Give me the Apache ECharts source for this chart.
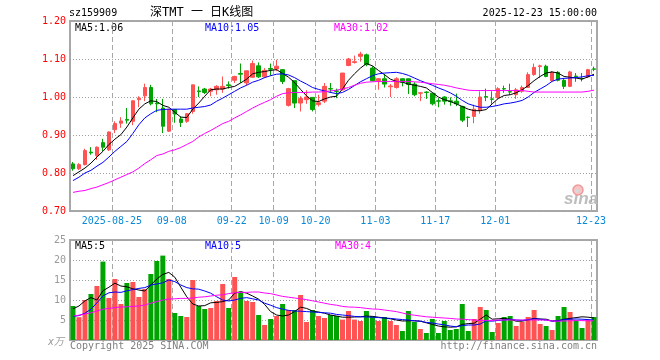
<!DOCTYPE html>
<html><head><meta charset="utf-8">
<script src="https://cdn.jsdelivr.net/npm/echarts@6/dist/echarts.min.js"></script>
<style>html,body{margin:0;padding:0;background:#fff}#c{width:660px;height:360px}</style>
</head><body><div id="c"></div>
<script>
const dates = [
'2025-08-14','2025-08-15','2025-08-18','2025-08-19','2025-08-20','2025-08-21','2025-08-22',
'2025-08-25','2025-08-26','2025-08-27','2025-08-28','2025-08-29',
'2025-09-01','2025-09-02','2025-09-03','2025-09-04','2025-09-05',
'2025-09-08','2025-09-09','2025-09-10','2025-09-11','2025-09-12',
'2025-09-15','2025-09-16','2025-09-17','2025-09-18','2025-09-19',
'2025-09-22','2025-09-23','2025-09-24','2025-09-25','2025-09-26',
'2025-09-29','2025-09-30','2025-10-09','2025-10-10',
'2025-10-13','2025-10-14','2025-10-15','2025-10-16','2025-10-17',
'2025-10-20','2025-10-21','2025-10-22','2025-10-23','2025-10-24',
'2025-10-27','2025-10-28','2025-10-29','2025-10-30','2025-10-31',
'2025-11-03','2025-11-04','2025-11-05','2025-11-06','2025-11-07',
'2025-11-10','2025-11-11','2025-11-12','2025-11-13','2025-11-14',
'2025-11-17','2025-11-18','2025-11-19','2025-11-20','2025-11-21',
'2025-11-24','2025-11-25','2025-11-26','2025-11-27','2025-11-28',
'2025-12-01','2025-12-02','2025-12-03','2025-12-04','2025-12-05',
'2025-12-08','2025-12-09','2025-12-10','2025-12-11','2025-12-12',
'2025-12-15','2025-12-16','2025-12-17','2025-12-18','2025-12-19',
'2025-12-22','2025-12-23'];

const labelDates = ['2025-08-25','2025-09-08','2025-09-22','2025-10-09','2025-10-20','2025-11-03','2025-11-17','2025-12-01','2025-12-23'];

const opens = [0.824,0.811,0.822,0.855,0.846,0.880,0.861,0.914,0.931,0.941,
0.936,0.993,1.003,1.025,0.984,0.971,0.910,0.967,0.942,0.936,
0.962,1.016,1.021,1.015,1.019,1.021,1.032,1.044,1.062,1.037,
1.052,1.082,1.053,1.075,1.074,1.072,0.978,1.043,0.984,0.993,
0.999,0.980,0.989,1.022,1.016,1.019,1.083,1.091,1.107,1.111,
1.076,1.043,1.048,1.027,1.025,1.048,1.048,1.034,1.010,1.013,
1.010,0.990,1.000,0.990,0.989,0.975,0.947,0.949,0.964,1.001,
0.995,0.998,1.022,1.014,1.006,1.015,1.025,1.059,1.080,1.081,
1.043,1.065,1.044,1.028,1.055,1.049,1.053,1.074];

const closes = [0.811,0.822,0.859,0.853,0.868,0.868,0.908,0.930,0.937,0.939,
0.990,0.997,1.025,0.982,0.982,0.923,0.967,0.955,0.933,0.956,
1.032,1.014,1.012,1.021,1.028,1.028,1.030,1.054,1.060,1.069,
1.088,1.053,1.070,1.073,1.081,1.041,1.022,0.984,0.996,1.000,
0.967,0.985,1.028,1.021,1.015,1.063,1.100,1.093,1.113,1.085,
1.043,1.048,1.034,1.029,1.048,1.039,1.033,1.006,1.011,1.012,
0.982,0.989,0.989,0.988,0.982,0.939,0.946,0.968,1.000,1.000,
0.994,1.022,1.021,1.013,1.019,1.025,1.059,1.078,1.082,1.054,
1.065,1.044,1.028,1.066,1.054,1.048,1.072,1.073];

const lows = [0.806,0.808,0.820,0.848,0.835,0.857,0.858,0.905,0.919,0.930,
0.926,0.973,0.989,0.978,0.960,0.905,0.908,0.932,0.921,0.932,
0.956,1.000,1.008,1.002,1.006,1.011,1.022,1.037,1.037,1.030,
1.050,1.050,1.050,1.056,1.068,1.034,0.975,0.971,0.962,0.982,
0.962,0.975,0.984,1.011,0.997,1.017,1.081,1.088,1.093,1.081,
1.041,1.019,1.025,1.000,1.022,1.028,1.008,1.002,0.989,0.995,
0.978,0.973,0.980,0.977,0.976,0.934,0.921,0.931,0.956,0.989,
0.982,0.995,1.011,1.006,0.995,1.011,1.024,1.056,1.050,1.052,
1.041,1.041,1.021,1.026,1.040,1.041,1.050,1.068];

const highs = [0.829,0.826,0.864,0.868,0.870,0.890,0.909,0.936,0.947,0.971,
0.991,1.002,1.035,1.032,0.995,0.995,0.969,0.967,0.949,0.958,
1.032,1.028,1.024,1.024,1.031,1.054,1.041,1.056,1.088,1.069,
1.096,1.091,1.076,1.088,1.098,1.072,1.024,1.043,1.002,1.018,
0.999,1.006,1.037,1.037,1.022,1.063,1.103,1.109,1.119,1.114,
1.081,1.050,1.061,1.034,1.052,1.048,1.048,1.039,1.012,1.015,
1.010,0.997,1.002,0.999,1.009,0.977,0.949,0.980,1.015,1.022,
1.015,1.026,1.030,1.035,1.024,1.030,1.065,1.088,1.085,1.085,
1.068,1.068,1.050,1.069,1.063,1.063,1.074,1.080];

const ma5 = [0.793,0.803,0.813,0.826,0.842,0.857,0.875,0.889,0.901,0.921,
0.945,0.968,0.982,0.990,0.988,0.978,0.973,0.960,0.947,0.946,
0.968,0.984,1.002,1.019,1.021,1.021,1.025,1.028,1.037,1.047,
1.061,1.065,1.067,1.070,1.072,1.062,1.052,1.038,1.020,1.003,
0.990,0.988,0.995,1.000,1.002,1.021,1.044,1.061,1.076,1.088,
1.082,1.070,1.059,1.047,1.041,1.039,1.034,1.031,1.028,1.024,
1.012,1.000,0.993,0.988,0.982,0.975,0.968,0.964,0.964,0.967,
0.982,0.996,1.004,1.006,1.011,1.019,1.030,1.043,1.054,1.063,
1.066,1.063,1.054,1.052,1.050,1.047,1.053,1.060];

const ma10 = [0.780,0.789,0.800,0.807,0.818,0.828,0.842,0.857,0.870,0.883,
0.904,0.927,0.945,0.956,0.965,0.967,0.968,0.968,0.968,0.968,
0.971,0.973,0.975,0.979,0.989,0.997,1.006,1.015,1.024,1.031,
1.039,1.044,1.051,1.056,1.060,1.061,1.058,1.051,1.042,1.034,
1.025,1.020,1.016,1.012,1.009,1.012,1.020,1.030,1.040,1.048,
1.056,1.061,1.063,1.064,1.065,1.062,1.057,1.050,1.043,1.037,
1.031,1.024,1.018,1.011,1.002,0.991,0.982,0.977,0.973,0.973,
0.975,0.978,0.982,0.984,0.987,0.991,1.000,1.012,1.021,1.030,
1.041,1.047,1.049,1.050,1.051,1.053,1.056,1.057];

const ma30 = [0.749,0.752,0.754,0.759,0.763,0.769,0.775,0.782,0.789,0.796,
0.803,0.813,0.825,0.835,0.846,0.850,0.857,0.861,0.867,0.875,
0.883,0.895,0.904,0.912,0.921,0.930,0.936,0.945,0.953,0.962,
0.971,0.979,0.986,0.993,1.002,1.009,1.011,1.012,1.012,1.012,
1.013,1.013,1.014,1.016,1.018,1.021,1.025,1.031,1.036,1.039,
1.040,1.041,1.041,1.041,1.041,1.041,1.041,1.040,1.039,1.037,
1.035,1.033,1.031,1.028,1.024,1.021,1.018,1.017,1.017,1.017,
1.017,1.017,1.017,1.017,1.017,1.017,1.015,1.013,1.013,1.013,
1.013,1.013,1.013,1.013,1.013,1.013,1.015,1.018];

const volumes = [8.5,5.7,10.0,11.5,13.5,19.6,10.5,15.25,9.0,14.25,
14.5,10.75,12.75,16.5,19.75,21.1,15.25,6.75,6.0,5.75,
15.0,8.5,7.75,8.0,9.75,14.0,8.0,15.75,12.0,9.75,
9.5,6.25,3.75,5.25,6.0,9.0,7.5,7.5,11.25,4.5,
7.5,6.0,5.5,6.25,6.0,5.1,7.25,5.1,4.75,7.25,
6.0,4.75,5.75,4.75,3.75,2.25,7.25,4.5,2.75,1.75,
5.25,1.75,4.75,2.5,2.75,9.0,2.25,5.25,8.25,7.5,
2.0,4.25,5.75,6.0,3.5,4.5,5.75,7.5,4.0,3.5,
2.5,6.0,8.25,7.0,5.0,3.0,5.0,5.75];

const vma5 = [7.8,8.5,9.8,10.6,10.0,12.3,13.2,14.2,13.5,13.3,
12.8,12.5,12.25,13.75,15.25,16.4,16.9,15.7,13.2,10.8,
9.0,8.5,8.6,9.3,9.4,9.6,10.0,11.7,12.1,11.7,
11.0,10.2,8.9,7.1,6.25,6.0,6.25,7.1,8.2,7.9,
7.25,7.0,6.7,6.25,6.0,5.7,5.7,5.75,5.8,6.0,
5.9,5.7,5.5,5.3,5.0,4.75,4.8,4.8,4.7,4.3,
3.9,3.5,3.3,3.2,3.3,3.9,4.1,4.2,5.2,6.25,
5.2,5.3,5.4,5.2,4.7,4.7,5.0,5.4,5.25,5.2,
4.75,4.8,5.2,5.4,5.6,5.8,5.7,5.5];

const vma10 = [5.9,6.1,6.7,7.7,9.3,11.0,11.8,12.0,11.9,12.3,
12.6,12.9,13.1,13.75,14.0,14.3,15.0,14.6,13.75,13.1,
12.8,12.7,12.25,11.7,10.8,10.0,9.75,10.0,10.4,10.6,
10.3,10.0,9.2,8.7,8.1,7.7,7.4,7.25,7.2,7.1,
7.0,6.9,6.8,6.7,6.4,6.25,6.1,5.9,5.8,5.75,
5.7,5.6,5.5,5.4,5.25,5.1,5.0,4.8,4.7,4.4,
4.25,4.0,3.8,3.5,3.3,3.6,3.75,3.75,4.0,4.8,
4.7,4.9,5.0,5.2,5.0,4.9,5.1,5.3,5.2,5.0,
4.7,4.8,5.1,5.2,5.25,5.2,5.1,5.0];

const vma30 = [6.0,6.2,6.5,6.8,7.25,7.7,7.9,8.1,8.25,8.3,
8.4,8.5,8.75,9.2,9.6,10.0,10.25,10.3,10.4,10.4,
10.5,10.7,10.8,11.0,11.2,11.3,11.6,11.8,11.9,11.9,
12.0,12.0,11.75,11.6,11.25,10.9,10.7,10.5,10.3,10.1,
9.8,9.5,9.2,8.9,8.7,8.4,8.25,8.2,8.1,7.9,
7.75,7.7,7.5,7.3,7.1,6.75,6.4,6.2,6.0,5.8,
5.7,5.6,5.5,5.4,5.25,5.2,5.1,5.0,4.9,4.9,
4.9,5.0,5.0,5.0,5.0,5.0,5.0,5.0,5.0,5.0,
4.75,4.7,4.75,4.8,4.85,4.85,4.8,4.8];

const priceTicks = [0.70, 1.20, 0.10];
const volTicks = [0, 25, 5];
const headerTexts = ['sz159909', '深TMT 一 日K线图', '2025-12-23 15:00:00'];
const maLegend = ['MA5:1.06', 'MA10:1.05', 'MA30:1.02'];
const volLegend = ['MA5:5', 'MA10:5', 'MA30:4'];

const RED = '#ff5252', GREEN = '#00a400';
const MONO = "'DejaVu Sans Mono', monospace";
const GRIDC = '#a8a8a8';

const candleData = dates.map((d, i) => [opens[i], closes[i], lows[i], highs[i]]);
const isLabel = (idx, val) => labelDates.indexOf(val) >= 0;

const chart = echarts.init(document.getElementById('c'), null, {renderer: 'canvas'});
const txt = (t, x, y, color, align, font) => ({
  type: 'text', silent: true,
  style: {text: t, x: x, y: y, fill: color, font: font || ('10px ' + MONO),
    align: align || 'left', textAlign: align || 'left', verticalAlign: 'middle', textVerticalAlign: 'middle'}
});

chart.setOption({
  animation: false,
  backgroundColor: '#fff',
  grid: [
    {left: 70, right: 63, top: 21, height: 190, show: true, borderColor: GRIDC, borderWidth: 2, backgroundColor: 'transparent'},
    {left: 70, right: 63, top: 240, height: 100, show: true, borderColor: GRIDC, borderWidth: 2, backgroundColor: 'transparent'}
  ],
  xAxis: [
    {type: 'category', gridIndex: 0, data: dates, boundaryGap: true,
     axisLine: {show: false}, axisTick: {show: false},
     axisLabel: {interval: isLabel, color: '#0a8ad8', fontFamily: MONO, fontSize: 10, margin: 5,
       padding: [0, 6, 0, 0],
       formatter: v => v === labelDates[0] ? v : v.slice(5)},
     splitLine: {show: true, interval: isLabel, lineStyle: {color: GRIDC, type: [5, 3], width: 1}}},
    {type: 'category', gridIndex: 1, data: dates, boundaryGap: true,
     axisLine: {show: false}, axisTick: {show: false}, axisLabel: {show: false},
     splitLine: {show: true, interval: isLabel, lineStyle: {color: GRIDC, type: [5, 3], width: 1}}}
  ],
  yAxis: [
    {type: 'value', gridIndex: 0, min: priceTicks[0], max: priceTicks[1], interval: priceTicks[2],
     axisLine: {show: false}, axisTick: {show: false},
     axisLabel: {color: '#ff0000', fontFamily: MONO, fontSize: 10, margin: 4, formatter: v => v.toFixed(2)},
     splitLine: {show: true, lineStyle: {color: '#a0a0a0', type: [1, 2], width: 1}}},
    {type: 'value', gridIndex: 1, min: volTicks[0], max: volTicks[1], interval: volTicks[2],
     axisLine: {show: false}, axisTick: {show: false},
     axisLabel: {color: '#9a9a9a', fontFamily: MONO, fontSize: 10, margin: 4, formatter: v => v === 0 ? '' : String(v)},
     splitLine: {show: true, lineStyle: {color: '#a0a0a0', type: [1, 2], width: 1}}}
  ],
  series: [
    {type: 'candlestick', xAxisIndex: 0, yAxisIndex: 0, data: candleData, barWidth: 4,
     itemStyle: {color: RED, color0: GREEN, borderColor: RED, borderColor0: GREEN, borderWidth: 1}},
    {type: 'line', xAxisIndex: 0, yAxisIndex: 0, data: ma5, symbol: 'none', lineStyle: {color: '#000', width: 1}, z: 3},
    {type: 'line', xAxisIndex: 0, yAxisIndex: 0, data: ma10, symbol: 'none', lineStyle: {color: '#0000ff', width: 1}, z: 3},
    {type: 'line', xAxisIndex: 0, yAxisIndex: 0, data: ma30, symbol: 'none', lineStyle: {color: '#ff00ff', width: 1}, z: 3},
    {type: 'bar', xAxisIndex: 1, yAxisIndex: 1, data: volumes, barWidth: 5,
     itemStyle: {color: p => closes[p.dataIndex] > opens[p.dataIndex] ? RED : GREEN}},
    {type: 'line', xAxisIndex: 1, yAxisIndex: 1, data: vma5, symbol: 'none', lineStyle: {color: '#000', width: 1}, z: 3},
    {type: 'line', xAxisIndex: 1, yAxisIndex: 1, data: vma10, symbol: 'none', lineStyle: {color: '#0000ff', width: 1}, z: 3},
    {type: 'line', xAxisIndex: 1, yAxisIndex: 1, data: vma30, symbol: 'none', lineStyle: {color: '#ff00ff', width: 1}, z: 3}
  ],
  graphic: [
    txt(headerTexts[0], 69, 13, '#000'),
    txt(headerTexts[1], 150, 13, '#000', 'left', "12px 'DejaVu Sans Mono', 'Noto Sans CJK SC', monospace"),
    txt(headerTexts[2], 597, 13, '#000', 'right'),
    txt(maLegend[0], 75, 28, '#000'),
    txt(maLegend[1], 205, 28, '#0000ff'),
    txt(maLegend[2], 334, 28, '#ff00ff'),
    txt(volLegend[0], 75, 246, '#000'),
    txt(volLegend[1], 205, 246, '#0000ff'),
    txt(volLegend[2], 335, 246, '#ff00ff'),
    txt('x万', 64, 342, '#9a9a9a', 'right', "italic 10px 'DejaVu Sans Mono', 'Noto Sans CJK SC', monospace"),
    txt('Copyright 2025 SINA.COM', 70, 346, '#808080'),
    txt('http://finance.sina.com.cn', 597, 346, '#808080', 'right'),
    {type: 'circle', silent: true, shape: {cx: 578, cy: 190, r: 5}, style: {fill: '#f6c4c4', stroke: '#ee9a9a', lineWidth: 1.5}, z: 1},
    {type: 'circle', silent: true, shape: {cx: 577, cy: 191, r: 2}, style: {fill: '#d9d9d9'}, z: 1},
    txt('sina', 581, 199, '#bdbdbd', 'center', "italic bold 17px 'Liberation Sans', Arial, sans-serif")
  ]
});
</script></body></html>
